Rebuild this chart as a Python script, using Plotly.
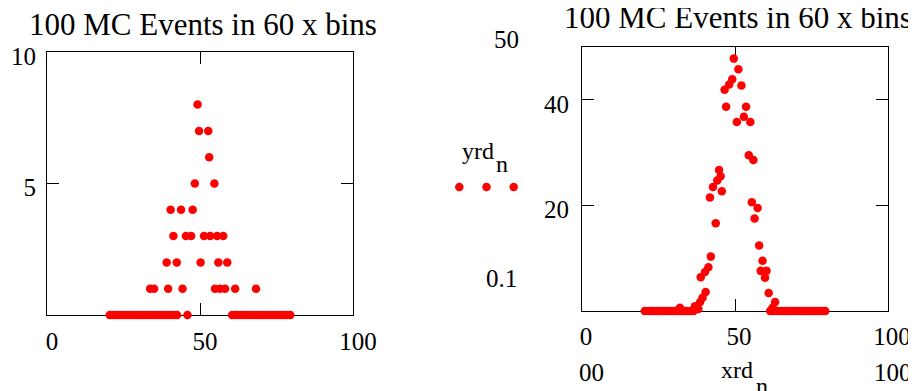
import plotly.graph_objects as go

W, H = 916, 391
OFF = 8  # page body margin: figure pixels are shifted by this amount on the page

# ---------------- data ----------------
# Left panel: 100 MC events in 60 x bins (x position, count)
left_x = [49.2, 49.7, 52.7, 53.0, 48.3, 54.7,
          40.4, 43.8, 47.6,
          41.3, 45.4, 47.1, 51.3, 53.3, 55.6, 57.6,
          39.1, 42.4, 50.2, 56.0, 58.9,
          33.7, 35.0, 39.6, 44.3, 54.9, 56.5, 58.2, 61.5, 68.3]
left_y = [8, 7, 7, 6, 5, 5,
          4, 4, 4,
          3, 3, 3, 3, 3, 3, 3,
          2, 2, 2, 2, 2,
          1, 1, 1, 1, 1, 1, 1, 1, 1]
left_zero_x = [20.5, 21.5, 22.5, 23.5, 24.5, 25.5, 26.5, 27.5, 28.5, 29.5,
               30.5, 31.5, 32.5, 33.5, 34.5, 35.5, 36.5, 37.5, 38.5, 39.5,
               40.5, 41.5, 42.5, 45.9,
               60.5, 61.5, 62.5, 63.5, 64.5, 65.5, 66.5, 67.5, 68.5, 69.5,
               70.5, 71.5, 72.5, 73.5, 74.5, 75.5, 76.5, 77.5, 78.5, 79.5]

# Right panel
right_x = [49.6, 51.1, 49.1, 48.1, 46.6, 52.1, 47.1, 53.6, 52.9, 50.6, 55.0,
           54.5, 56.0, 44.8, 45.3, 44.2, 42.8, 45.7, 41.8, 55.5, 57.4, 56.4,
           43.7, 57.9, 42.1, 59.0, 41.3, 58.4, 60.3, 40.2, 38.8, 59.8, 40.4,
           61.0, 39.4, 38.6, 63.1, 36.9, 62.3, 32.0, 38.0]
right_y = [47.8, 45.8, 43.9, 42.9, 41.9, 42.7, 38.7, 38.7, 36.8, 35.8, 35.8,
           29.5, 28.6, 26.7, 25.5, 24.7, 23.5, 22.7, 21.5, 20.6, 19.5, 17.5,
           16.6, 12.4, 10.3, 9.5, 8.3, 7.6, 7.6, 7.4, 6.4, 6.3, 3.6,
           3.4, 2.5, 1.7, 1.7, 0.9, 0.6, 0.6, 0.4]
right_zero_x = [20.5, 21.5, 22.5, 23.5, 24.5, 25.5, 26.5, 27.5, 28.5, 29.5,
                30.5, 31.5, 32.5, 33.5, 34.5, 35.5, 36.5,
                61.5, 62.5, 63.5, 64.5, 65.5, 66.5, 67.5, 68.5, 69.5, 70.5,
                71.5, 72.5, 73.5, 74.5, 75.5, 76.5, 77.5, 78.5, 79.5]

legend_key_x = [0, 1, 2]
legend_key_y = [0, 0, 0]

left_xticks = [0, 50, 100]
left_yticks = [5, 10]
right_xticks = [0, 50, 100]
right_yticks = [20, 40]

title_text = "100 MC Events in 60 x bins"

# ---------------- styling ----------------
RED = "#ff0000"
FONT = "Liberation Serif"
MS = 8.5


def px(x):
    return (x - OFF) / W


def py(y):
    return 1 - (y - OFF) / H


fig = go.Figure()

fig.add_trace(go.Scatter(x=left_zero_x, y=[0] * len(left_zero_x), mode="markers",
                         marker=dict(color=RED, size=MS), cliponaxis=False,
                         xaxis="x", yaxis="y", showlegend=False))
fig.add_trace(go.Scatter(x=left_x, y=left_y, mode="markers",
                         marker=dict(color=RED, size=MS), cliponaxis=False,
                         xaxis="x", yaxis="y", showlegend=False))
fig.add_trace(go.Scatter(x=right_zero_x, y=[0] * len(right_zero_x), mode="markers",
                         marker=dict(color=RED, size=MS), cliponaxis=False,
                         xaxis="x2", yaxis="y2", showlegend=False))
fig.add_trace(go.Scatter(x=right_x, y=right_y, mode="markers",
                         marker=dict(color=RED, size=MS), cliponaxis=False,
                         xaxis="x2", yaxis="y2", showlegend=False))
fig.add_trace(go.Scatter(x=legend_key_x, y=legend_key_y, mode="markers",
                         marker=dict(color=RED, size=MS), cliponaxis=False,
                         xaxis="x3", yaxis="y3", showlegend=False))

tickfont = dict(family=FONT, size=25, color="black")
common = dict(showline=True, linecolor="black", linewidth=1, mirror="ticks",
              ticks="inside", ticklen=12, tickcolor="black", tickwidth=1,
              showgrid=False, zeroline=False, tickfont=tickfont,
              layer="below traces", fixedrange=True, automargin=False)

fig.update_layout(
    template="none",
    width=W, height=H,
    margin=dict(l=0, r=0, t=0, b=0, autoexpand=False),
    showlegend=False,
    paper_bgcolor="white", plot_bgcolor="white",
    xaxis=dict(domain=[px(47), px(353)], range=[0, 100], tickvals=left_xticks,
               ticktext=[str(v) for v in left_xticks], anchor="y",
               ticklabelshift=5, ticklabelstandoff=4, **common),
    yaxis=dict(domain=[py(315), py(52)], range=[0, 10], tickvals=left_yticks,
               ticktext=[str(v) for v in left_yticks], anchor="x",
               ticklabelshift=4, ticklabelstandoff=5, **common),
    xaxis2=dict(domain=[px(582), px(888)], range=[0, 100], tickvals=right_xticks,
                ticktext=[str(v) for v in right_xticks], anchor="y2",
                ticklabelshift=4, ticklabelstandoff=3, **common),
    yaxis2=dict(domain=[py(311), py(47)], range=[0, 50], tickvals=right_yticks,
                ticktext=[str(v) for v in right_yticks], anchor="x2",
                ticklabelshift=4, ticklabelstandoff=7, **common),
    xaxis3=dict(domain=[px(445.7), px(527.3)], range=[-0.5, 2.5], visible=False,
                anchor="y3", fixedrange=True, automargin=False),
    yaxis3=dict(domain=[py(197), py(177)], range=[-1, 1], visible=False,
                anchor="x3", fixedrange=True, automargin=False),
)


def ann(text, x, y, size=25, xanchor="center", yanchor="middle"):
    fig.add_annotation(text=text, x=px(x), y=py(y), xref="paper", yref="paper",
                       showarrow=False, xanchor=xanchor, yanchor=yanchor,
                       font=dict(family=FONT, size=size, color="black"))


ann(title_text, 203, 24, size=31)
ann(title_text, 738, 18, size=31)
ann("50", 506.7, 39.5)
ann("yrd", 477.5, 151, size=24)
ann("n", 501.5, 164, size=24)
ann("0.1", 501.3, 278.7)
ann("00", 591.7, 372)
ann("100", 893, 372)
ann("xrd", 737, 370, size=24)
ann("n", 761.7, 386, size=24)

fig.write_html("out.html")
